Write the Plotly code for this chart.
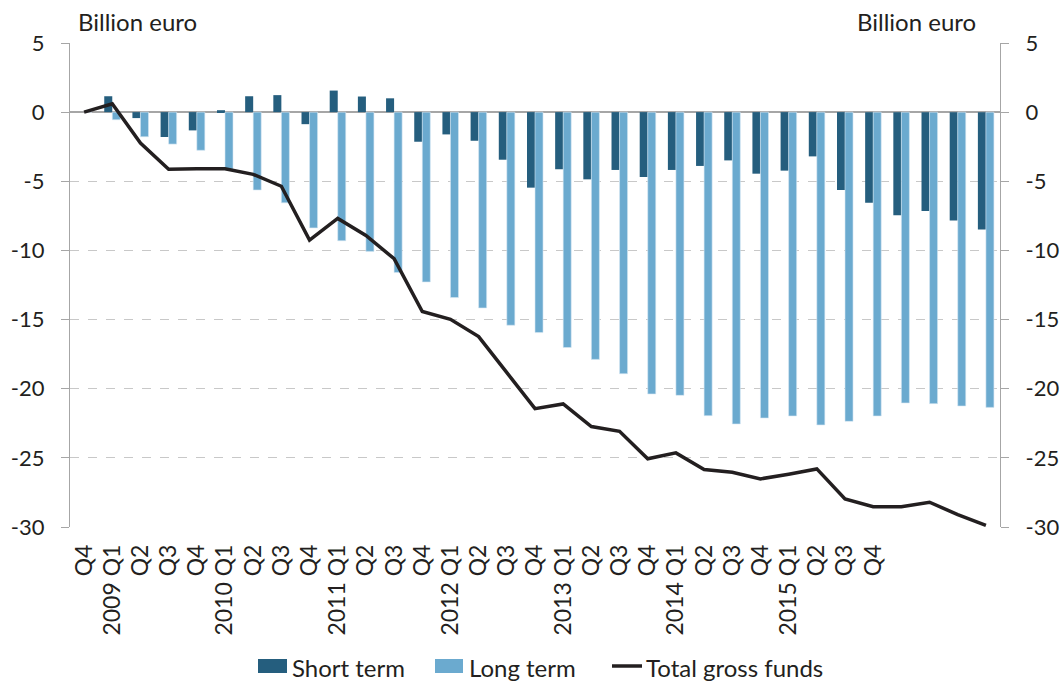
import plotly.graph_objects as go

# ---- data ----
tick_labels = ["Q4", "2009 Q1", "Q2", "Q3", "Q4", "2010 Q1", "Q2", "Q3", "Q4",
               "2011 Q1", "Q2", "Q3", "Q4", "2012 Q1", "Q2", "Q3", "Q4",
               "2013 Q1", "Q2", "Q3", "Q4", "2014 Q1", "Q2", "Q3", "Q4",
               "2015 Q1", "Q2", "Q3", "Q4", "", "", "", ""]

short_term = [0.0, 1.15, -0.43, -1.80, -1.32, 0.14, 1.15, 1.23, -0.87,
              1.56, 1.13, 1.00, -2.14, -1.61, -2.07, -3.44, -5.46,
              -4.13, -4.86, -4.18, -4.69, -4.18, -3.89, -3.49, -4.45,
              -4.23, -3.20, -5.63, -6.56, -7.45, -7.14, -7.84, -8.49]

long_term = [0.0, -0.55, -1.78, -2.31, -2.76, -4.13, -5.63, -6.56, -8.37,
             -9.30, -10.07, -11.60, -12.28, -13.41, -14.16, -15.41, -15.94,
             -17.02, -17.88, -18.92, -20.38, -20.48, -21.95, -22.55, -22.12,
             -21.97, -22.62, -22.36, -21.97, -21.03, -21.08, -21.25, -21.35]

total_gross = [0.0, 0.60, -2.24, -4.13, -4.09, -4.09, -4.50, -5.36, -9.25,
               -7.69, -8.92, -10.60, -14.42, -14.98, -16.23, -18.87, -21.44,
               -21.10, -22.74, -23.08, -25.07, -24.64, -25.85, -26.04, -26.52,
               -26.18, -25.80, -27.97, -28.53, -28.53, -28.21, -29.10, -29.88]

series_names = ["Short term", "Long term", "Total gross funds"]
y_ticks = [5, 0, -5, -10, -15, -20, -25, -30]
unit_label = "Billion euro"

x = list(range(len(tick_labels)))

DARK = "#255E7E"
LIGHT = "#6BAACF"
LINE = "#231F20"
AXIS = "#A6A6A6"
GRID = "#C8C8C8"
FONT = "Lato"
TEXT = "#231F20"

# figure geometry (pixels)
W, H = 1060, 683
L, R, T, B = 70, 60, 43, 156
PW, PH = W - L - R, H - T - B


def px_x(p):
    return (p - L) / PW


def px_y(p):
    return (H - B - p) / PH


fig = go.Figure()
fig.add_trace(go.Bar(x=x, y=short_term, name=series_names[0], showlegend=False,
                     marker=dict(color=DARK, line=dict(width=0))))
fig.add_trace(go.Bar(x=x, y=long_term, name=series_names[1], showlegend=False,
                     marker=dict(color=LIGHT, line=dict(width=0.6, color="#D6E8F3"))))
fig.add_trace(go.Scatter(x=x, y=total_gross, name=series_names[2], showlegend=False,
                         mode="lines", line=dict(color=LINE, width=3.5)))
# invisible trace to carry the right-hand axis
fig.add_trace(go.Scatter(x=x, y=total_gross, yaxis="y2", mode="lines",
                         line=dict(width=0), opacity=0, showlegend=False,
                         hoverinfo="skip"))

yax = dict(range=[-30, 5], tickvals=y_ticks, ticktext=[str(v) for v in y_ticks],
           ticks="outside", ticklen=8, tickcolor=AXIS, tickwidth=1,
           showline=True, linecolor=AXIS, linewidth=1.3, automargin=False,
           tickfont=dict(family=FONT, size=22, color=TEXT),
           ticklabelstandoff=12)

# ---- custom legend at the bottom ----
leg_y = 666
shapes = [
    dict(type="rect", xref="paper", yref="paper", x0=px_x(258), x1=px_x(287),
         y0=px_y(leg_y - 7), y1=px_y(leg_y + 7), fillcolor=DARK, line=dict(width=0)),
    dict(type="rect", xref="paper", yref="paper", x0=px_x(435), x1=px_x(463),
         y0=px_y(leg_y - 7), y1=px_y(leg_y + 7), fillcolor=LIGHT, line=dict(width=0)),
    dict(type="line", xref="paper", yref="paper", x0=px_x(612), x1=px_x(642),
         y0=px_y(leg_y), y1=px_y(leg_y), line=dict(color=LINE, width=3.5)),
]
legend_text_x = [290, 467, 644]

annotations = [
    dict(text=unit_label, xref="paper", yref="paper", x=px_x(76), y=1.0,
         xanchor="left", yanchor="bottom", showarrow=False,
         font=dict(family=FONT, size=24, color=TEXT), yshift=5),
    dict(text=unit_label, xref="paper", yref="paper", x=px_x(978), y=1.0,
         xanchor="right", yanchor="bottom", showarrow=False,
         font=dict(family=FONT, size=24, color=TEXT), yshift=5),
]
for name, lx in zip(series_names, legend_text_x):
    annotations.append(dict(text=name, xref="paper", yref="paper", x=px_x(lx),
                            y=px_y(leg_y + 1), xanchor="left", yanchor="middle",
                            showarrow=False,
                            font=dict(family=FONT, size=24, color=TEXT)))

fig.update_layout(
    width=W, height=H,
    margin=dict(l=L, r=R, t=T, b=B, autoexpand=False),
    paper_bgcolor="white", plot_bgcolor="white",
    barmode="group", bargap=0.43, bargroupgap=0,
    font=dict(family=FONT, size=23, color=TEXT),
    xaxis=dict(range=[-0.5, len(x) - 0.5], tickvals=x, ticktext=tick_labels,
               tickangle=-90, ticks="", showgrid=False, showline=False,
               zeroline=False, automargin=False,
               tickfont=dict(family=FONT, size=23, color=TEXT),
               ticklabelstandoff=12),
    yaxis=dict(**yax, showgrid=True, gridcolor=GRID, griddash="dash", gridwidth=1,
               zeroline=True, zerolinecolor=AXIS, zerolinewidth=2),
    yaxis2=dict(**yax, overlaying="y", side="right", showgrid=False, zeroline=False),
    shapes=shapes,
    annotations=annotations,
    showlegend=False,
)

fig.write_html("out.html",
               config={"displayModeBar": False},
               post_script="document.body.style.margin='0';"
                           "document.body.style.overflow='hidden';")
